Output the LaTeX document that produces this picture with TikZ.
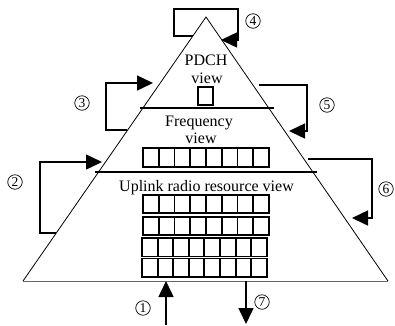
\documentclass[tikz,border=0pt]{standalone}
\usepackage{fontspec}
\setmainfont{Liberation Serif}
\usetikzlibrary{arrows.meta}
\begin{document}
\begin{tikzpicture}[x=1pt,y=-1pt,
 arr/.style={line width=1.5pt,-{Triangle[length=16pt,width=15pt]}},
 num/.style={circle,draw,line width=0.7pt,minimum size=14.5pt,inner sep=0pt,font=\fontsize{13.5}{13.5}\selectfont},
 lbl/.style={font=\fontsize{16}{16}\selectfont,anchor=base,inner sep=0pt},
 cell/.style={line width=1.9pt},
 side/.style={line width=0.8pt},
 divider/.style={line width=1.2pt}]
\useasboundingbox (0,0) rectangle (395,325);
% triangle
\coordinate (apex) at (206,17);
\coordinate (bl) at (23,281);
\coordinate (br) at (388,281);
\draw[side] (bl) -- (apex) -- (br);
\draw[line width=1pt,black!60] (bl) -- (br);
% dividers
\coordinate (d1a) at (140,108); \coordinate (d1b) at (274,108);
\coordinate (d2a) at (95,172);  \coordinate (d2b) at (317,172);
\draw[divider] (d1a) -- (d1b);
\draw[divider] (d2a) -- (d2b);
% labels
\node[lbl] (pdch) at (206,65) {PDCH};
\node[lbl] (pview) at (207,83) {view};
\node[lbl] (freq) at (199,126) {Frequency};
\node[lbl] (fview) at (201,143) {view};
\node[lbl] (ul) at (206.5,191) {Uplink radio resource view};
% cells
\draw[cell] (198,87) rectangle (213,105);
\foreach \i in {0,...,7} \draw[cell] (143+\i*15.75,148) rectangle ++(15.75,19);
\foreach \r in {195,217} \foreach \i in {0,...,7} \draw[cell] (143+\i*15.75,\r) rectangle ++(15.75,18);
\foreach \r in {238,258.5} \foreach \i in {0,...,7} \draw[cell] (142+\i*15.6,\r) rectangle ++(15.6,18.5);
% numbers
\node[num] (n1) at (143,308) {1};
\node[num] (n2) at (15,182) {2};
\node[num] (n3) at (82,103) {3};
\node[num] (n4) at (253,21) {4};
\node[num] (n5) at (327,105) {5};
\node[num] (n6) at (386,189) {6};
\node[num] (n7) at (262,302) {7};
% arrow endpoints
\coordinate (a1s) at (166,325); \coordinate (a1e) at (166,281);
\coordinate (a2s) at (56,233); \coordinate (a2e) at (102,162);
\coordinate (a3s) at (127,130); \coordinate (a3e) at (153,83);
\coordinate (a4s) at (193,36); \coordinate (a4e) at (221,40);
\coordinate (a5s) at (259,85); \coordinate (a5e) at (289,131);
\coordinate (a6s) at (308,159); \coordinate (a6e) at (352,218);
\coordinate (a7s) at (246,281); \coordinate (a7e) at (246,324);
\draw[arr] (a1s) -- (a1e);
\draw[arr] (a2s) -- (40,233) -- (40,162) -- (a2e);
\draw[arr] (a3s) -- (106,130) -- (106,83) -- (a3e);
\draw[arr] (a4s) -- (174,36) -- (174,9) -- (238,9) -- (238,40) -- (a4e);
\draw[arr] (a5s) -- (307,85) -- (307,131) -- (a5e);
\draw[arr] (a6s) -- (372,159) -- (372,218) -- (a6e);
\draw[arr] (a7s) -- (a7e);
\end{tikzpicture}
\end{document}
